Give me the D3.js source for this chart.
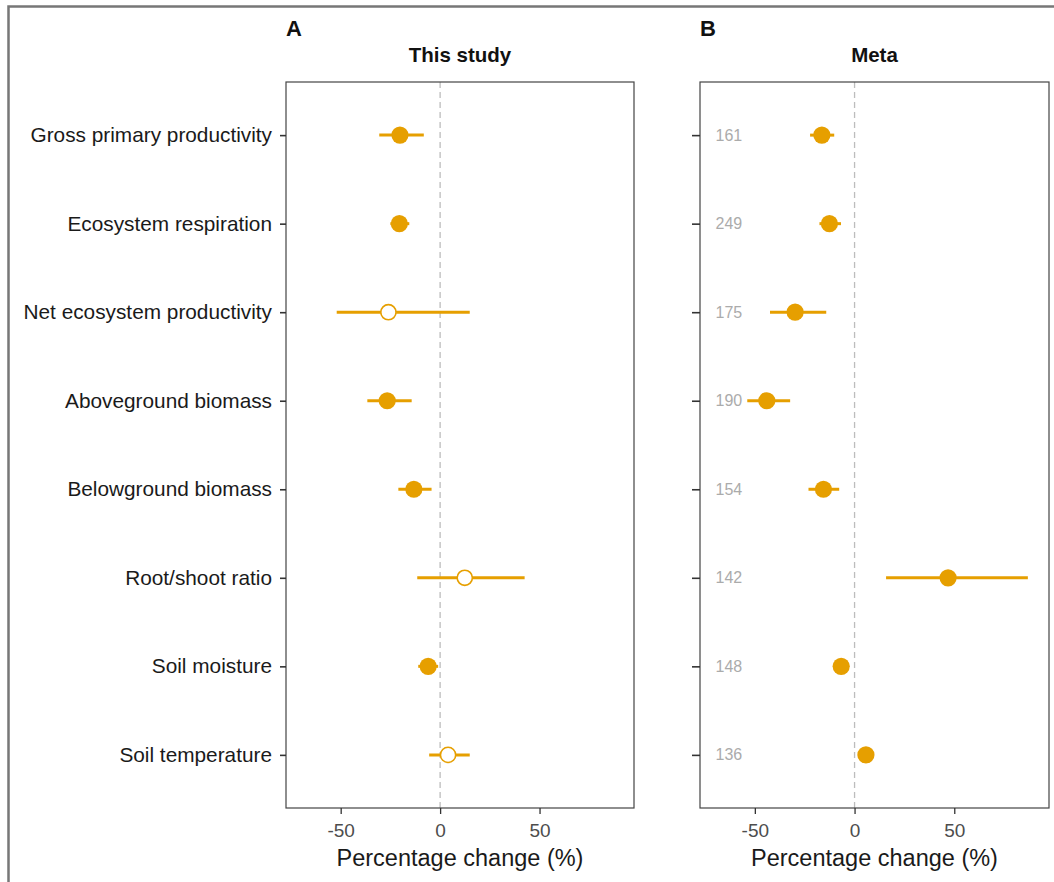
<!DOCTYPE html>
<html><head><meta charset="utf-8">
<script src="https://cdn.jsdelivr.net/npm/d3@7"></script>
<style>body{margin:0;background:#fff}svg{display:block;font-family:"Liberation Sans",Arial,Helvetica,sans-serif}</style>
</head><body><svg id="c" width="1054" height="882"></svg>
<script>
const categories = ["Gross primary productivity","Ecosystem respiration","Net ecosystem productivity","Aboveground biomass","Belowground biomass","Root/shoot ratio","Soil moisture","Soil temperature"];
// Panel A: This study
const studyMean = [-20.2,-20.5,-26,-26.6,-13.2,12.4,-6,4];
const studyLow  = [-30.6,-25,-52,-36.6,-21,-11.5,-11,-5.5];
const studyHigh = [-8.2,-15.5,14.9,-14.3,-4.3,42.5,-1,14.9];
const studySig  = [true,true,false,true,true,false,true,false];
// Panel B: Meta
const metaMean = [-16.4,-12.6,-29.8,-44,-15.6,46.9,-6.7,5.7];
const metaLow  = [-22.3,-17.6,-42.4,-53.8,-23.1,15.8,-9,4];
const metaHigh = [-10.2,-6.8,-14.2,-32.3,-7.7,86.9,-4.5,7.5];
const metaN    = [161,249,175,190,154,142,148,136];
const xTicks = [-50,0,50];

const svg = d3.select("#c");
const orange = "#E69F00";
const plotTop = 82, plotBottom = 808;

// outer frame
svg.append("rect").attr("x",8.5).attr("y",6.5).attr("width",1100).attr("height",1000)
  .attr("fill","none").attr("stroke","#777").attr("stroke-width",2.5);

function panel(x0, x1, letter, title, mean, low, high, sig, showLabels, counts){
  const x = d3.scaleLinear().domain([-77.5,97.5]).range([x0,x1]);
  const y = d3.scalePoint().domain(categories).range([plotTop,plotBottom]).padding(0.6);
  const g = svg.append("g");
  g.append("line").attr("x1",x(0)).attr("x2",x(0)).attr("y1",plotTop).attr("y2",plotBottom)
    .attr("stroke","#bdbdbd").attr("stroke-width",1.3).attr("stroke-dasharray","6,4");
  if(counts){
    g.selectAll("text.n").data(counts).join("text").attr("class","n")
      .attr("x",x(-63)).attr("y",(d,i)=>y(categories[i])).attr("dy","0.35em")
      .attr("text-anchor","middle").attr("font-size",16).attr("fill","#ababab").text(d=>d);
  }
  g.selectAll("line.err").data(categories).join("line").attr("class","err")
    .attr("x1",(d,i)=>x(low[i])).attr("x2",(d,i)=>x(high[i]))
    .attr("y1",d=>y(d)).attr("y2",d=>y(d))
    .attr("stroke",orange).attr("stroke-width",3);
  g.selectAll("circle.pt").data(categories).join("circle").attr("class","pt")
    .attr("cx",(d,i)=>x(mean[i])).attr("cy",d=>y(d))
    .attr("r",(d,i)=>sig[i]?8.6:7.6)
    .attr("fill",(d,i)=>sig[i]?orange:"#fff")
    .attr("stroke",orange).attr("stroke-width",(d,i)=>sig[i]?0:1.6);
  g.append("rect").attr("x",x0).attr("y",plotTop).attr("width",x1-x0).attr("height",plotBottom-plotTop)
    .attr("fill","none").attr("stroke","#444").attr("stroke-width",1.2);
  const xa = g.append("g").attr("transform",`translate(0,${plotBottom})`)
    .call(d3.axisBottom(x).tickValues(xTicks).tickSize(6).tickPadding(10).tickFormat(d=>String(d)));
  xa.select(".domain").remove();
  xa.selectAll("line").attr("stroke","#333").attr("stroke-width",1.3);
  xa.selectAll("text").attr("font-size",19).attr("fill","#4d4d4d").attr("font-family","inherit");
  const ya = g.append("g").attr("transform",`translate(${x0},0)`)
    .call(d3.axisLeft(y).tickSize(showLabels?6:8).tickPadding(8));
  ya.select(".domain").remove();
  ya.selectAll("line").attr("stroke","#333").attr("stroke-width",1.6);
  if(showLabels){
    ya.selectAll("text").attr("font-size",20.8).attr("fill","#1a1a1a").attr("font-family","inherit");
  } else ya.selectAll("text").remove();
  g.append("text").attr("x",(x0+x1)/2).attr("y",62).attr("text-anchor","middle")
    .attr("font-size",20.5).attr("font-weight","bold").attr("fill","#111").text(title);
  g.append("text").attr("x",x0).attr("y",36).attr("font-size",22).attr("font-weight","bold").attr("fill","#111").text(letter);
  g.append("text").attr("x",(x0+x1)/2).attr("y",866).attr("text-anchor","middle")
    .attr("font-size",23.5).attr("fill","#1a1a1a").text("Percentage change (%)");
}
panel(286,634,"A","This study",studyMean,studyLow,studyHigh,studySig,true,null);
panel(700,1049,"B","Meta",metaMean,metaLow,metaHigh,metaMean.map(()=>true),false,metaN);
</script></body></html>
